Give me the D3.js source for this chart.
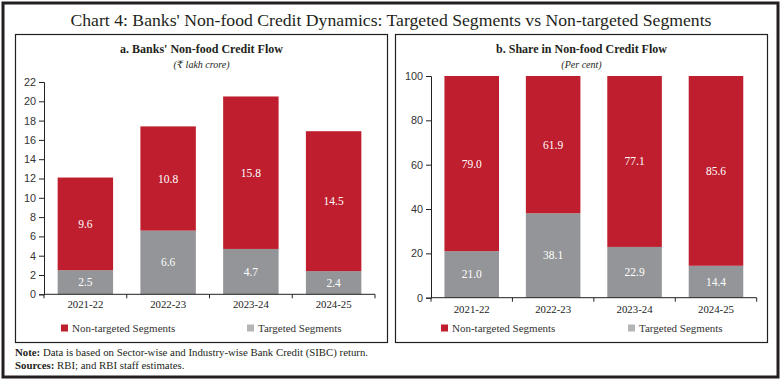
<!DOCTYPE html>
<html>
<head>
<meta charset="utf-8">
<title>Chart 4</title>
<script src="https://d3js.org/d3.v7.min.js"></script>
<style>
  body { margin: 0; background: #fff; }
  svg { display: block; font-family: "Liberation Serif", "DejaVu Serif", serif; }
  .tick text { fill: #333; font-size: 10.8px; }
  .domain, .tick line { stroke: #222; }
</style>
</head>
<body>
<script>
// data
var years = ["2021-22", "2022-23", "2023-24", "2024-25"];
var flowTargeted    = [2.5, 6.6, 4.7, 2.4];
var flowNonTargeted = [9.6, 10.8, 15.8, 14.5];
var shareTargeted    = [21.0, 38.1, 22.9, 14.4];
var shareNonTargeted = [79.0, 61.9, 77.1, 85.6];
var flowTicks  = [0, 2, 4, 6, 8, 10, 12, 14, 16, 18, 20, 22];
var shareTicks = [0, 20, 40, 60, 80, 100];
var seriesNames = ["Non-targeted Segments", "Targeted Segments"];

var red = "#be1e2d", grey = "#939598", legendGrey = "#b5b5b7";

var W = 781, H = 381;
var svg = d3.select("body").append("svg").attr("width", W).attr("height", H);

// outer frame
svg.append("rect").attr("x", 3).attr("y", 3).attr("width", 775).attr("height", 374)
  .attr("fill", "none").attr("stroke", "#231f20").attr("stroke-width", 3);

svg.append("text").attr("x", 391).attr("y", 26).attr("text-anchor", "middle")
  .attr("font-size", 17).attr("fill", "#231f20")
  .attr("textLength", 641).attr("lengthAdjust", "spacingAndGlyphs")
  .text("Chart 4: Banks' Non-food Credit Dynamics: Targeted Segments vs Non-targeted Segments");

//パネル描画
function panel(opt) {
  var g = svg.append("g");
  g.append("rect").attr("x", opt.px).attr("y", 34.5).attr("width", 372).attr("height", 308)
    .attr("fill", "none").attr("stroke", "#231f20").attr("stroke-width", 1.2);
  var cx = opt.px + 186;
  g.append("text").attr("x", cx).attr("y", 52.5).attr("text-anchor", "middle")
    .attr("font-size", 12).attr("font-weight", "bold").attr("fill", "#231f20")
    .text(opt.title);
  g.append("text").attr("x", cx).attr("y", 68).attr("text-anchor", "middle")
    .attr("font-size", 10).attr("font-style", "italic").attr("fill", "#231f20")
    .text(opt.unit);

  var x = d3.scaleBand().domain(years).range(opt.xr).paddingInner(0.33).paddingOuter(0.165);
  var y = d3.scaleLinear().domain([0, opt.max]).range(opt.yr);

  var rows = years.map(function(c, i) {
    return { year: c, t: opt.t[i], n: opt.n[i] };
  });
  var stack = d3.stack().keys(["t", "n"])(rows);
  var cols = { t: grey, n: red };

  stack.forEach(function(layer) {
    g.append("g").selectAll("rect").data(layer).enter().append("rect")
      .attr("x", function(d) { return x(d.data.year); })
      .attr("width", x.bandwidth())
      .attr("y", function(d) { return y(d[1]); })
      .attr("height", function(d) { return y(d[0]) - y(d[1]); })
      .attr("fill", cols[layer.key]);
    g.append("g").selectAll("text").data(layer).enter().append("text")
      .attr("x", function(d) { return x(d.data.year) + x.bandwidth() / 2; })
      .attr("y", function(d) { return y((d[0] + d[1]) / 2) + 4; })
      .attr("text-anchor", "middle").attr("font-size", 11.5).attr("fill", "#fff")
      .text(function(d) { return d.data[layer.key].toFixed(1); });
  });

  // y axis
  g.append("g").attr("transform", "translate(" + opt.xr[0] + ",0)")
    .call(d3.axisLeft(y).tickValues(opt.ticks).tickSize(5).tickPadding(3).tickFormat(d3.format("d")));

  // x axis: line + ticks at band boundaries, labels centred
  var y0 = opt.yr[0];
  g.append("line").attr("x1", opt.xr[0]).attr("x2", opt.xr[1]).attr("y1", y0).attr("y2", y0)
    .attr("stroke", "#222");
  var step = x.step();
  var bounds = years.map(function(c) { return x(c) - (step - x.bandwidth()) / 2; });
  bounds.push(opt.xr[1]);
  g.append("g").selectAll("line").data(bounds).enter().append("line")
    .attr("x1", function(d) { return d; }).attr("x2", function(d) { return d; })
    .attr("y1", y0).attr("y2", y0 + 4).attr("stroke", "#222");
  g.append("g").selectAll("text").data(years).enter().append("text")
    .attr("x", function(d) { return x(d) + x.bandwidth() / 2; })
    .attr("y", opt.labY).attr("text-anchor", "middle")
    .attr("font-size", 10.8).attr("fill", "#222")
    .text(function(d) { return d; });

  // legend
  var lg = [{ name: seriesNames[0], col: red, x: opt.lx[0] }, { name: seriesNames[1], col: legendGrey, x: opt.lx[1] }];
  lg.forEach(function(l) {
    g.append("rect").attr("x", l.x).attr("y", 324.5).attr("width", 7).attr("height", 7).attr("fill", l.col);
    g.append("text").attr("x", l.x + 11).attr("y", 332).attr("font-size", 11).attr("fill", "#333")
      .text(l.name);
  });
}

panel({ px: 15.5, title: "a. Banks' Non-food Credit Flow", unit: "(₹ lakh crore)",
  xr: [44, 375], yr: [294.3, 82], max: 22, ticks: flowTicks,
  t: flowTargeted, n: flowNonTargeted, labY: 307.5, lx: [61, 247] });

panel({ px: 395.5, title: "b. Share in Non-food Credit Flow", unit: "(Per cent)",
  xr: [431, 756.7], yr: [297.7, 76], max: 100, ticks: shareTicks,
  t: shareTargeted, n: shareNonTargeted, labY: 313, lx: [441, 628] });

// notes
var n1 = svg.append("text").attr("x", 15).attr("y", 356).attr("font-size", 10.8).attr("fill", "#231f20");
n1.append("tspan").attr("font-weight", "bold").text("Note: ");
n1.append("tspan").text("Data is based on Sector-wise and Industry-wise Bank Credit (SIBC) return.");
var n2 = svg.append("text").attr("x", 15).attr("y", 368.5).attr("font-size", 10.8).attr("fill", "#231f20");
n2.append("tspan").attr("font-weight", "bold").text("Sources: ");
n2.append("tspan").text("RBI; and RBI staff estimates.");
</script>
</body>
</html>
